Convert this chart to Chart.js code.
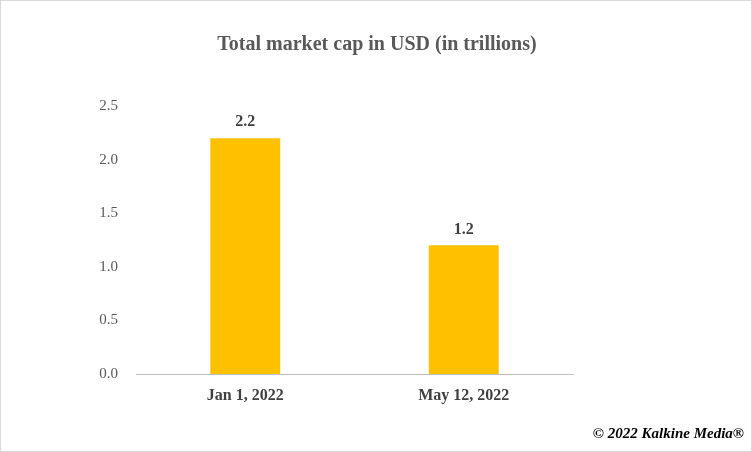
<!DOCTYPE html>
<html><head><script src="https://cdn.jsdelivr.net/npm/chart.js"></script>
<style>html,body{margin:0;padding:0;background:#fff}#w{width:752px;height:452px;position:relative;box-sizing:border-box;border:1px solid #d9d9d9}</style>
</head><body><div id="w"><canvas id="c"></canvas></div>
<script>
const categories = ["Jan 1, 2022", "May 12, 2022"];
const values = [2.2, 1.2];
const valueLabels = ["2.2", "1.2"];
const titleText = "Total market cap in USD (in trillions)";
const credit = "© 2022 Kalkine Media®";
const F = "'Liberation Serif', 'Times New Roman', serif";
const extras = {
  id: 'extras',
  afterDatasetsDraw(chart) {
    const ctx = chart.ctx;
    ctx.save();
    ctx.fillStyle = '#595959';
    ctx.font = "bold 20px " + F;
    ctx.textAlign = 'center'; ctx.textBaseline = 'middle';
    ctx.fillText(titleText, 376, 44);
    ctx.fillStyle = '#404040';
    ctx.font = "bold 16px " + F;
    ctx.textBaseline = 'bottom';
    chart.getDatasetMeta(0).data.forEach((b, i) => ctx.fillText(valueLabels[i], b.x, b.y - 8));
    ctx.fillStyle = '#000';
    ctx.font = "italic bold 15px " + F;
    ctx.textAlign = 'right'; ctx.textBaseline = 'middle';
    ctx.fillText(credit, 743, 433);
    ctx.restore();
  }
};
new Chart(document.getElementById('c'), {
  type: 'bar',
  data: { labels: categories, datasets: [{ data: values, backgroundColor: '#FFC000', barPercentage: 0.32, categoryPercentage: 1 }] },
  options: {
    responsive: true, maintainAspectRatio: false, animation: false,
    layout: { padding: { top: 105, right: 178, left: 0, bottom: 0 } },
    plugins: { legend: { display: false }, tooltip: { enabled: false } },
    scales: {
      x: { grid: { display: false, drawTicks: false }, border: { color: '#bfbfbf' },
           ticks: { color: '#404040', font: { family: F, size: 16, weight: 'bold' }, padding: 12 },
           afterFit(s) { s.height = 77; } },
      y: { min: 0, max: 2.5, grid: { display: false, drawTicks: false }, border: { display: false },
           ticks: { stepSize: 0.5, color: '#595959', font: { family: F, size: 15 }, padding: 18, callback: v => v.toFixed(1) },
           afterFit(s) { s.width = 135; } }
    }
  },
  plugins: [extras]
});
</script></body></html>
